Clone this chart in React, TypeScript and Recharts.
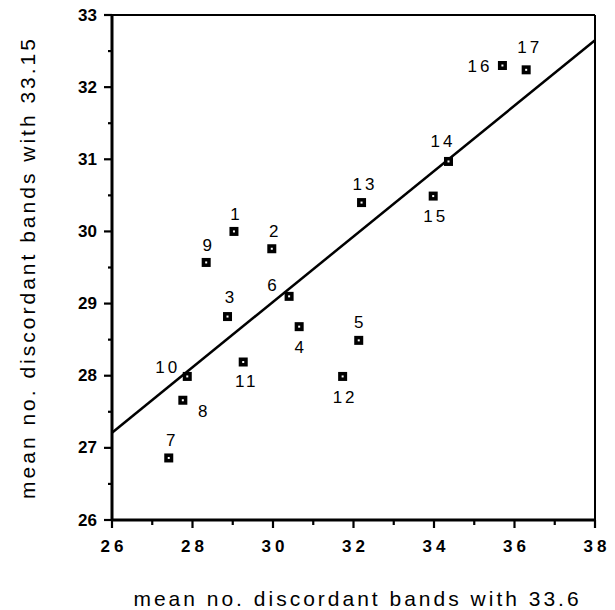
import { ScatterChart, Scatter, XAxis, YAxis, ReferenceLine, Label } from "recharts";

const FONT = "'Liberation Sans', Arial, Helvetica, sans-serif";

// strain numbers and the mean discordant band counts for each pair of probes
const strainIds = [1, 2, 3, 4, 5, 6, 7, 8, 9, 10, 11, 12, 13, 14, 15, 16, 17];
const bands336 = [29.03, 29.97, 28.87, 30.65, 32.13, 30.4, 27.41, 27.76, 28.34, 27.87, 29.26, 31.73, 32.2, 34.36, 33.98, 35.7, 36.29];
const bands3315 = [30.0, 29.76, 28.82, 28.68, 28.49, 29.1, 26.86, 27.66, 29.57, 27.99, 28.19, 27.99, 30.4, 30.97, 30.49, 32.3, 32.24];

// least-squares line, evaluated at the ends of the x range
const fitX = [26, 38];
const fitY = [27.21, 32.65];

const xTicks = [26, 27, 28, 29, 30, 31, 32, 33, 34, 35, 36, 37, 38];
const yTicks = [26, 26.5, 27, 27.5, 28, 28.5, 29, 29.5, 30, 30.5, 31, 31.5, 32, 32.5, 33];

const points = strainIds.map((id, i) => ({ id, x: bands336[i], y: bands3315[i] }));
const fitSegment = fitX.map((x, i) => ({ x, y: fitY[i] }));

// where each number sits relative to its marker
const labelOffset: Record<number, [number, number]> = {
  1: [1, -17], 2: [2, -17], 3: [2, -19], 4: [0, 21], 5: [0, -18], 6: [-17, -11],
  7: [2, -17], 8: [20, 11], 9: [1, -17], 10: [-21, -9], 11: [2, 19], 12: [1, 21],
  13: [2, -18], 14: [-7, -20], 15: [1, 20], 16: [-24, 1], 17: [2, -22],
};

const PointMark = (props: any) => {
  const { cx, cy, payload } = props;
  const [dx, dy] = labelOffset[payload.id] || [0, -17];
  return (
    <g>
      <rect x={cx - 4.5} y={cy - 4.5} width={9} height={9} fill="#000" />
      <rect x={cx - 1} y={cy - 1} width={2} height={2} fill="#fff" />
      <text
        x={cx + dx + 1.5}
        y={cy + dy}
        textAnchor="middle"
        dominantBaseline="central"
        fontFamily={FONT}
        fontSize={17}
        letterSpacing={3}
        fill="#000"
      >
        {payload.id}
      </text>
    </g>
  );
};

const XTick = (props: any) => {
  const { x, y, payload } = props;
  const major = payload.value % 2 === 0;
  return (
    <g>
      <line x1={x} x2={x} y1={y} y2={y + (major ? 8 : 5)} stroke="#000" strokeWidth={2.2} />
      {major && (
        <text x={x + 2} y={y + 26} textAnchor="middle" dominantBaseline="central" fontFamily={FONT} fontWeight="bold" fontSize={17} letterSpacing={4} fill="#000">
          {payload.value}
        </text>
      )}
    </g>
  );
};

const YTick = (props: any) => {
  const { x, y, payload } = props;
  const major = Number.isInteger(payload.value);
  return (
    <g>
      <line x1={x - (major ? 8 : 4)} x2={x} y1={y} y2={y} stroke="#000" strokeWidth={2.2} />
      {major && (
        <text x={x - 15} y={y} textAnchor="end" dominantBaseline="central" fontFamily={FONT} fontWeight="bold" fontSize={17} fill="#000">
          {payload.value}
        </text>
      )}
    </g>
  );
};

export default function App() {
  return (
    <div style={{ position: "absolute", left: 0, top: 0, background: "#fff" }}>
      <ScatterChart width={615} height={610} margin={{ top: 15, right: 20, bottom: 0, left: 52 }}>
        <XAxis
          type="number"
          dataKey="x"
          domain={[26, 38]}
          ticks={xTicks}
          interval={0}
          allowDataOverflow
          height={90}
          tickLine={false}
          tickSize={0}
          tickMargin={0}
          tick={<XTick />}
          axisLine={{ stroke: "#000", strokeWidth: 3 }}
        >
          <Label
            content={({ viewBox }: any) => (
              <text
                x={viewBox.x + viewBox.width / 2 + 4}
                y={viewBox.y + 78}
                textAnchor="middle"
                dominantBaseline="central"
                fontFamily={FONT}
                fontSize={21}
                letterSpacing={3}
                fill="#000"
              >
                mean no. discordant bands with 33.6
              </text>
            )}
          />
        </XAxis>
        <YAxis
          type="number"
          dataKey="y"
          domain={[26, 33]}
          ticks={yTicks}
          interval={0}
          allowDataOverflow
          width={60}
          tickLine={false}
          tickSize={0}
          tickMargin={0}
          tick={<YTick />}
          axisLine={{ stroke: "#000", strokeWidth: 3 }}
        >
          <Label
            content={({ viewBox }: any) => {
              const cx = 27;
              const cy = viewBox.y + viewBox.height / 2;
              return (
                <text
                  x={cx}
                  y={cy}
                  transform={`rotate(-90 ${cx} ${cy})`}
                  textAnchor="middle"
                  dominantBaseline="central"
                  fontFamily={FONT}
                  fontSize={21}
                  letterSpacing={3}
                  fill="#000"
                >
                  mean no. discordant bands with 33.15
                </text>
              );
            }}
          />
        </YAxis>
        <ReferenceLine y={33} stroke="#000" strokeWidth={2} />
        <ReferenceLine x={38} stroke="#000" strokeWidth={2} />
        <ReferenceLine segment={fitSegment} stroke="#000" strokeWidth={2.5} />
        <Scatter data={points} shape={<PointMark />} isAnimationActive={false} />
      </ScatterChart>
    </div>
  );
}
